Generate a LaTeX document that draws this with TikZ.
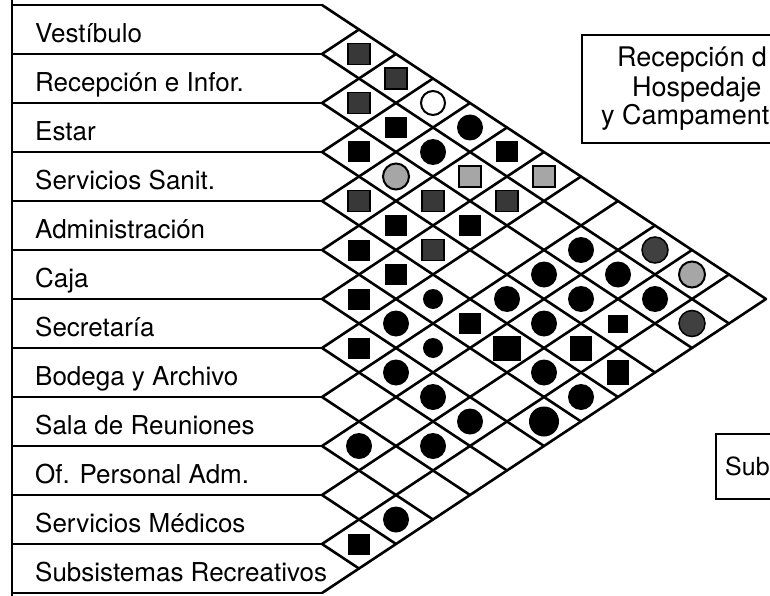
\documentclass[tikz,border=0pt]{standalone}
\usepackage{fontspec}
\setmainfont{TeX Gyre Heros}
\usetikzlibrary{positioning,calc}
\tikzset{%
  % grid
  rowline/.style={line width=2pt},
  grid/.style={line width=2.6pt, line cap=round},
  frame/.style={draw, line width=1.6pt, inner sep=0pt},
  rowtext/.style={anchor=base west, inner sep=0pt, font=\fontsize{26}{30}\selectfont},
  boxtext/.style={anchor=base west, inner sep=0pt, font=\fontsize{27}{32}\selectfont},
  % markers
  sqr/.style={rectangle, fill=black, inner sep=0pt, minimum width=22pt, minimum height=21pt},
  sqrdark/.style={sqr, fill=black!78, draw=black, line width=1.5pt},
  sqrgray/.style={sqr, fill=black!35, draw=black, line width=2pt},
  dot/.style={circle, fill=black, inner sep=0pt, minimum size=26pt},
  dotdark/.style={dot, fill=black!75, draw=black, line width=1.5pt},
  dotgray/.style={dot, fill=black!35, draw=black, line width=2pt},
  dotopen/.style={dot, fill=white, draw=black, line width=2pt, minimum size=24pt},
}
\newcommand{\relnode}[4][]{%
  % #1 = extra TikZ options
  % #2 = marker (sqr | dot ...)
  % #3, #4 = the two rows
  \node[#2, #1] (r#3-#4) at ({322+37*(#4-#3)}, {29.5+24.5*(#3+#4)}) {};
}

\begin{document}
\begin{tikzpicture}[x=1pt, y=-1pt]
  \useasboundingbox (0,0) rectangle (770,596);
  \clip (0,0) rectangle (770,596);

  % Rows
  \draw[rowline] (12,0) -- (12,596);
  \foreach \k in {0,...,12} {
    \coordinate (b\k) at (322,{5+49*\k});
    \draw[rowline] (12,{5+49*\k}) -- (b\k);
  }
  \node[rowtext] (l0) at (35,42.5) {Vestíbulo};
  \node[rowtext] (l1) at (35,91.5) {Recepción e Infor.};
  \node[rowtext] (l2) at (35,140.5) {Estar};
  \node[rowtext] (l3) at (35,189.5) {Servicios Sanit.};
  \node[rowtext] (l4) at (35,238.5) {Administración};
  \node[rowtext] (l5) at (35,287.5) {Caja};
  \node[rowtext] (l6) at (35,336.5) {Secretaría};
  \node[rowtext] (l7) at (35,385.5) {Bodega y Archivo};
  \node[rowtext] (l8) at (35,434.5) {Sala de Reuniones};
  \node[rowtext] (l9) at (35,483.5) {Of. Personal Adm.};
  \node[rowtext] (l10) at (35,532.5) {Servicios Médicos};
  \node[rowtext] (l11) at (35,581.5) {Subsistemas Recreativos};

  % Grid
  \foreach \k in {0,...,11}
    \draw[grid] (b\k) -- ++({37*(12-\k)},{24.5*(12-\k)});
  \foreach \k in {1,...,12}
    \draw[grid] (b\k) -- ++({37*\k},{-24.5*\k});

  % Relations
  \relnode{sqrdark}{0}{1}
  \relnode{sqrdark}{0}{2}
  \relnode{sqrdark}{1}{2}
  \relnode{dotopen}{0}{3}
  \relnode{sqr}{1}{3}
  \relnode{sqr}{2}{3}
  \relnode{dot}{0}{4}
  \relnode{dot}{1}{4}
  \relnode{dotgray}{2}{4}
  \relnode{sqrdark}{3}{4}
  \relnode{sqr}{0}{5}
  \relnode{sqrgray}{1}{5}
  \relnode{sqrdark}{2}{5}
  \relnode{sqr}{3}{5}
  \relnode{sqr}{4}{5}
  \relnode{sqrgray}{0}{6}
  \relnode{sqrdark}{1}{6}
  \relnode{sqr}{2}{6}
  \relnode{sqrdark}{3}{6}
  \relnode{sqr}{4}{6}
  \relnode{sqr}{5}{6}
  \relnode[minimum size=20pt]{dot}{4}{7}
  \relnode{dot}{5}{7}
  \relnode{sqr}{6}{7}
  \relnode{dot}{1}{8}
  \relnode{dot}{2}{8}
  \relnode{dot}{3}{8}
  \relnode{sqr}{4}{8}
  \relnode[minimum size=20pt]{dot}{5}{8}
  \relnode{dot}{6}{8}
  \relnode{dotdark}{0}{9}
  \relnode{dot}{1}{9}
  \relnode{dot}{2}{9}
  \relnode{dot}{3}{9}
  \relnode[minimum width=28pt, minimum height=25pt]{sqr}{4}{9}
  \relnode{dot}{6}{9}
  \relnode{dot}{8}{9}
  \relnode{dotgray}{0}{10}
  \relnode{dot}{1}{10}
  \relnode[minimum width=20pt, minimum height=18pt]{sqr}{2}{10}
  \relnode[minimum height=25pt]{sqr}{3}{10}
  \relnode{dot}{4}{10}
  \relnode{dot}{6}{10}
  \relnode{dot}{7}{10}
  \relnode{dotdark}{1}{11}
  \relnode[minimum height=25pt]{sqr}{3}{11}
  \relnode{dot}{4}{11}
  \relnode[minimum size=30pt]{dot}{5}{11}
  \relnode{dot}{9}{11}
  \relnode{sqr}{10}{11}

  % Boxes
  \node[frame, minimum width=236pt, minimum height=108pt] (hosp) at (700,89) {};
  \node[boxtext] (hosp1) at (617,67) {Recepción d};
  \node[boxtext] (hosp2) at (632,97) {Hospedaje};
  \node[boxtext] (hosp3) at (601,125) {y Campament};
  \node[frame, anchor=north west, minimum width=120pt, minimum height=65pt] (sub) at (715,433) {};
  \node[rowtext, font=\fontsize{25}{30}\selectfont] (sub1) at (725,475) {Sub};
\end{tikzpicture}
\end{document}
